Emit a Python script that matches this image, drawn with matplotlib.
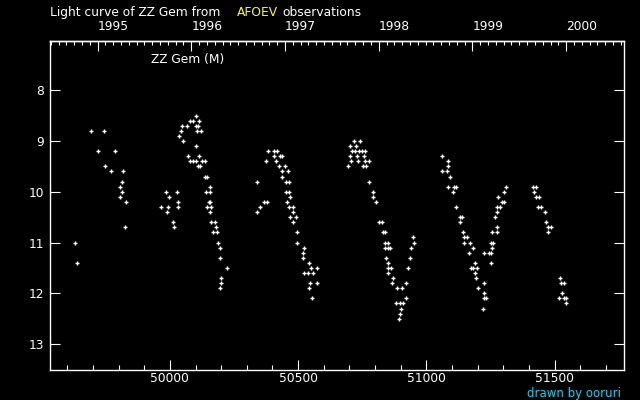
import matplotlib
matplotlib.use('Agg')
import matplotlib.pyplot as plt
from matplotlib.ticker import MultipleLocator, NullLocator

# ---- data (JD - 2400000, visual magnitude) ----
jd = [
    49631, 49639, 49694, 49744, 49721, 49787, 49748, 49772, 49819, 49815,
    49807, 49815, 49807, 49830, 49827,
    49983, 50026, 49995, 49967, 49991, 50030, 50030, 49987, 50014, 50018,
    50100, 50080, 50092, 50112, 50049, 50065, 50100, 50108, 50045, 50104,
    50123, 50037, 50053, 50100, 50069, 50112, 50080, 50092, 50100, 50127,
    50135, 50108, 50116, 50135, 50143, 50155, 50139, 50155, 50151, 50155,
    50143, 50162, 50155, 50159, 50174, 50178, 50170, 50182, 50186, 50194,
    50194, 50221, 50198, 50198, 50194,
    50338, 50366, 50377, 50350, 50338,
    50381, 50405, 50416, 50405, 50428, 50436, 50373, 50412, 50424, 50448,
    50436, 50459, 50437, 50451, 50463, 50451, 50463, 50467, 50455, 50465,
    50479, 50479, 50467, 50491, 50479, 50494, 50494, 50522, 50518, 50518,
    50541, 50549, 50573, 50522, 50537, 50557, 50547, 50573, 50541, 50553,
    50717, 50741, 50704, 50725, 50709, 50721, 50737, 50748, 50760, 50701,
    50729, 50756, 50705, 50733, 50760, 50776, 50694, 50752, 50764, 50776,
    50791, 50791, 50803, 50815, 50826, 50830, 50838, 50838, 50850, 50838,
    50850, 50858, 50842, 50850, 50850, 50863, 50850, 50869, 50866, 50885,
    50905, 50922, 50920, 50881, 50897, 50908, 50900, 50897, 50893, 50948,
    50951, 50940, 50936, 50928,
    51061, 51084, 51084, 51061, 51080, 51092, 51084, 51108, 51116, 51104,
    51116, 51131, 51139, 51131, 51142, 51147, 51158, 51147, 51170, 51182,
    51166, 51225, 51244, 51252, 51190, 51252, 51174, 51182, 51198, 51190,
    51194, 51225, 51201, 51225, 51225, 51233, 51221,
    51311, 51303, 51280, 51295, 51303, 51276, 51287, 51276, 51268, 51276,
    51256, 51276, 51252, 51260, 51256,
    51416, 51428, 51420, 51428, 51440, 51436, 51448, 51463, 51467, 51475,
    51487, 51475,
    51522, 51526, 51537, 51530, 51518, 51537, 51545, 51545,
]
mag = [
    11.0, 11.4, 8.8, 8.8, 9.2, 9.2, 9.5, 9.6, 9.6, 9.8,
    9.9, 10.0, 10.1, 10.2, 10.7,
    10.0, 10.0, 10.1, 10.3, 10.3, 10.2, 10.3, 10.4, 10.6, 10.7,
    8.5, 8.6, 8.6, 8.6, 8.7, 8.7, 8.7, 8.7, 8.8, 8.8,
    8.8, 8.9, 9.0, 9.1, 9.3, 9.3, 9.4, 9.4, 9.4, 9.4,
    9.4, 9.5, 9.5, 9.7, 9.7, 9.9, 10.0, 10.0, 10.2, 10.2,
    10.3, 10.3, 10.4, 10.6, 10.6, 10.7, 10.8, 10.8, 11.0, 11.1,
    11.3, 11.5, 11.7, 11.8, 11.9,
    9.8, 10.2, 10.2, 10.3, 10.4,
    9.2, 9.2, 9.2, 9.3, 9.3, 9.3, 9.4, 9.4, 9.5, 9.5,
    9.6, 9.6, 9.7, 9.8, 9.8, 10.0, 10.0, 10.1, 10.2, 10.3,
    10.3, 10.4, 10.5, 10.5, 10.6, 10.8, 11.0, 11.1, 11.2, 11.3,
    11.4, 11.5, 11.5, 11.6, 11.6, 11.6, 11.8, 11.8, 11.9, 12.1,
    9.0, 9.0, 9.1, 9.1, 9.2, 9.2, 9.2, 9.2, 9.2, 9.3,
    9.3, 9.3, 9.4, 9.4, 9.4, 9.4, 9.5, 9.5, 9.5, 9.8,
    10.0, 10.1, 10.2, 10.6, 10.6, 10.8, 10.8, 11.0, 11.0, 11.1,
    11.1, 11.1, 11.3, 11.4, 11.5, 11.5, 11.6, 11.7, 11.8, 11.9,
    11.9, 11.8, 12.1, 12.2, 12.2, 12.2, 12.3, 12.4, 12.5, 10.9,
    11.0, 11.1, 11.3, 11.5,
    9.3, 9.4, 9.5, 9.6, 9.6, 9.7, 9.9, 9.9, 9.9, 10.0,
    10.3, 10.5, 10.5, 10.6, 10.8, 10.9, 10.9, 11.0, 11.0, 11.1,
    11.2, 11.2, 11.2, 11.2, 11.4, 11.4, 11.5, 11.5, 11.5, 11.6,
    11.7, 11.8, 11.9, 12.0, 12.1, 12.1, 12.3,
    9.9, 10.0, 10.1, 10.2, 10.2, 10.3, 10.3, 10.4, 10.5, 10.7,
    10.8, 10.8, 11.0, 11.0, 11.1,
    9.9, 9.9, 10.0, 10.1, 10.1, 10.3, 10.3, 10.4, 10.6, 10.7,
    10.7, 10.8,
    11.7, 11.8, 11.8, 12.0, 12.1, 12.1, 12.1, 12.2,
]

x_ticks = [50000, 50500, 51000, 51500]
y_ticks = [8, 9, 10, 11, 12, 13]
year_ticks = [1995, 1996, 1997, 1998, 1999, 2000]
star_label = "ZZ Gem (M)"
title_parts = ["Light curve of ZZ Gem from", "AFOEV", "observations"]
credit = "drawn by ooruri"

plt.rcParams['font.family'] = ['DejaVu Sans']

W, H = 640, 400
fs = 8.8
fig = plt.figure(figsize=(6.4, 4.0), dpi=100, facecolor='black')
ax = fig.add_axes([50.3 / W, 1 - 370 / H, (623.5 - 50.3) / W, (370 - 41) / H])
ax.set_facecolor('black')

ax.plot(jd, mag, linestyle='none', marker='+', ms=3.0, mew=1.0, color='white')

ax.set_xlim(49534, 51768)
ax.set_ylim(13.51, 7.03)

for s in ax.spines.values():
    s.set_color('white')
    s.set_linewidth(1.0)

ax.set_xticks(x_ticks)
ax.set_xticklabels([str(v) for v in x_ticks])
ax.xaxis.set_minor_locator(MultipleLocator(100))
ax.set_yticks(y_ticks)
ax.set_yticklabels([str(v) for v in y_ticks])
ax.yaxis.set_minor_locator(NullLocator())

ax.tick_params(axis='x', which='major', direction='in', length=7.2, width=0.8,
               colors='white', labelsize=fs, pad=1.5, top=False)
ax.tick_params(axis='x', which='minor', direction='in', length=3.6, width=0.8,
               colors='white', top=False)
ax.tick_params(axis='y', which='major', direction='in', length=7.5, width=0.8,
               colors='white', labelsize=fs, pad=4.5, left=True, right=True)


def jd2yr(x):
    return 2000 + (x - 51544.5) / 365.25


def yr2jd(y):
    return 51544.5 + (y - 2000) * 365.25


secax = ax.secondary_xaxis('top', functions=(jd2yr, yr2jd))
secax.set_xticks(year_ticks)
secax.set_xticklabels([str(v) for v in year_ticks])
secax.xaxis.set_minor_locator(MultipleLocator(1 / 12))
secax.tick_params(which='major', direction='in', length=7.2, width=0.8,
                  colors='white', labelsize=fs, pad=6.0)
secax.tick_params(which='minor', direction='in', length=2.8, width=0.8,
                  colors='white')
for lbl in secax.get_xticklabels():
    lbl.set_horizontalalignment('left')
secax.spines['top'].set_color('white')
secax.spines['top'].set_linewidth(1.0)

# title made of three coloured pieces
fig.text(50.4 / W, 1 - 12.3 / H, title_parts[0], color='white', fontsize=fs,
         ha='left', va='center')
fig.text(236.9 / W, 1 - 12.3 / H, title_parts[1], color='#ffff00', fontsize=fs,
         ha='left', va='center')
fig.text(282.8 / W, 1 - 12.3 / H, title_parts[2], color='white', fontsize=fs,
         ha='left', va='center')

fig.text(150.8 / W, 1 - 60 / H, star_label, color='white', fontsize=fs,
         ha='left', va='center')
fig.text(621 / W, 1 - 393 / H, credit, color='#00d8f8', fontsize=8.5,
         ha='right', va='center')

fig.savefig('out.png', dpi=100, facecolor='black')
